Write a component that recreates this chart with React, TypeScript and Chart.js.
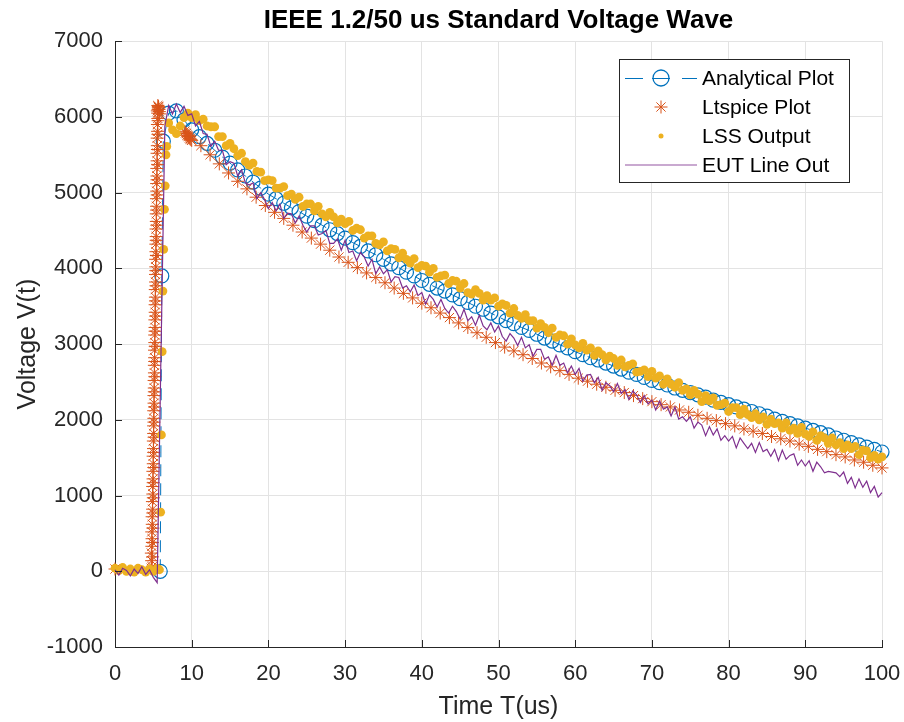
import React, { useEffect, useRef } from "react";
import { Chart, registerables } from "chart.js";

Chart.register(...registerables);

const TITLE = "IEEE 1.2/50 us Standard Voltage Wave";
const X_LABEL = "Time T(us)";
const Y_LABEL = "Voltage V(t)";
const SERIES_NAMES = ["Analytical Plot", "Ltspice Plot", "LSS Output", "EUT Line Out"];
const SERIES_COLORS = ["#0072BD", "#D95319", "#EDB120", "#7E2F8E"];

const X_MIN = 0;
const X_MAX = 100;
const X_STEP = 10;
const Y_MIN = -1000;
const Y_MAX = 7000;
const Y_STEP = 1000;

// ---------- Analytical Plot ----------
const analyticalFrontT = [5.9, 6.1, 6.3];
const analyticalFrontV = [0, 3900, 5680];
const ANALYTICAL_TAIL_START = 7;
const ANALYTICAL_TAIL_STEP = 1;
const analyticalTailV = [
  6050, 6080, 5960, 5830, 5740, 5650, 5560, 5470, 5390, 5300, 5220, 5140, 5060, 4980,
  4920, 4860, 4800, 4750, 4690, 4630, 4570, 4510, 4460, 4400,
  4340, 4290, 4230, 4180, 4120, 4060, 4010, 3950, 3900, 3840,
  3790, 3740, 3700, 3650, 3600, 3550, 3500, 3460, 3410, 3360,
  3310, 3270, 3220, 3180, 3130, 3080, 3040, 2990, 2950, 2900,
  2860, 2820, 2790, 2750, 2710, 2670, 2630, 2600, 2560, 2520,
  2490, 2460, 2420, 2390, 2360, 2330, 2300, 2260, 2230, 2200,
  2170, 2140, 2110, 2080, 2050, 2010, 1980, 1950, 1920, 1890,
  1860, 1830, 1800, 1760, 1730, 1700, 1670, 1640, 1610, 1575,
];

// ---------- Ltspice Plot ----------
const ltspiceFrontT = [
  0, 4.72, 4.78, 4.74, 4.8, 4.83, 4.79, 4.86, 4.84, 4.9, 4.88, 4.93, 4.91, 4.96, 4.94,
  4.99, 4.97, 5.02, 5.0, 5.04, 5.03, 5.07, 5.05, 5.09, 5.08, 5.12, 5.1, 5.14, 5.13,
  5.17, 5.15, 5.19, 5.18, 5.22, 5.2, 5.24, 5.23, 5.27, 5.25, 5.29, 5.28, 5.32, 5.3,
  5.34, 5.33, 5.37, 5.35, 5.39, 5.38, 5.42, 5.4, 5.44, 5.43, 5.47, 5.45, 5.49, 5.48,
  5.52, 5.5, 5.55, 5.53, 5.58, 5.56, 5.61, 5.64, 5.67, 5.7, 5.74, 5.78, 5.83,
  4.85, 4.9, 4.88, 4.95, 4.93, 5.0, 4.98, 5.06, 5.04, 5.1, 5.08, 5.15, 5.13, 5.2,
  5.18, 5.25, 5.23, 5.3, 5.28, 5.35, 5.33, 5.4, 5.38, 5.45, 5.43, 5.5, 5.48, 5.55,
  5.53, 5.6, 5.62, 5.52, 5.58,
  9.1, 9.2, 9.3, 9.4, 9.5, 9.6, 9.7, 9.8, 9.9, 10.0,
];
const ltspiceFrontV = [
  30, 40, 140, 240, 330, 430, 520, 620, 720, 820, 920, 1020, 1120, 1220, 1320,
  1420, 1520, 1620, 1720, 1820, 1920, 2020, 2120, 2220, 2320, 2420, 2520, 2620, 2720,
  2820, 2920, 3020, 3120, 3220, 3320, 3420, 3520, 3620, 3720, 3820, 3920, 4020, 4120,
  4220, 4320, 4420, 4520, 4620, 4720, 4820, 4920, 5020, 5120, 5220, 5320, 5420, 5520,
  5620, 5720, 5810, 5900, 5980, 6050, 6100, 6130, 6140, 6120, 6100, 6070, 6040,
  60, 190, 380, 570, 770, 970, 1170, 1370, 1570, 1770, 1970, 2170, 2370, 2570,
  2770, 2970, 3170, 3370, 3570, 3770, 3970, 4170, 4370, 4570, 4770, 4970, 5170, 5370,
  5570, 5770, 5950, 6080, 6150,
  5810, 5790, 5780, 5760, 5750, 5740, 5720, 5710, 5700, 5690,
];
const LTSPICE_TAIL_START = 11.2;
const LTSPICE_TAIL_STEP = 1.2;
const ltspiceTailV = [
  5620, 5500, 5380, 5260, 5150, 5050, 4940, 4830, 4740, 4660,
  4570, 4480, 4400, 4320, 4240, 4150, 4080, 4010, 3940, 3880,
  3810, 3740, 3670, 3610, 3540, 3480, 3410, 3350, 3280, 3220,
  3150, 3090, 3020, 2960, 2910, 2860, 2810, 2750, 2700, 2650,
  2600, 2550, 2510, 2470, 2430, 2390, 2360, 2320, 2280, 2240,
  2200, 2170, 2130, 2100, 2060, 2020, 1990, 1950, 1920, 1880,
  1850, 1820, 1780, 1750, 1720, 1680, 1650, 1610, 1580, 1540,
  1510, 1470, 1440, 1400, 1365,
];

// ---------- LSS Output ----------
const lssFrontT = [
  0, 0.5, 1, 1.5, 2, 2.5, 3, 3.5, 4, 4.5, 5, 5.5, 5.8,
  5.95, 6.05, 6.15, 6.25, 6.35, 6.45, 6.55, 6.65, 6.75,
  7.0, 7.5, 8.0, 8.5, 9.0,
];
const lssFrontV = [
  40, 10, 50, 0, 30, -10, 40, 20, -10, 30, 0, 40, 20,
  780, 1800, 2900, 3700, 4250, 4780, 5090, 5500, 5610,
  5920, 5830, 5780, 5880, 5990,
];
const LSS_TAIL_START = 9.5;
const LSS_TAIL_STEP = 0.5;
const lssTailV = [
  6050, 5990, 6030, 5950, 5970, 5880, 5870, 5870, 5740, 5740,
  5620, 5650, 5580, 5490, 5520, 5410, 5360, 5390, 5280, 5270,
  5160, 5170, 5160, 5060, 5060, 5080, 4960, 4980, 4910, 4940,
  4820, 4850, 4850, 4760, 4820, 4720, 4680, 4740, 4680, 4600,
  4650, 4590, 4620, 4500, 4530, 4510, 4400, 4430, 4430, 4330,
  4310, 4350, 4230, 4260, 4250, 4140, 4200, 4120, 4070, 4130,
  4010, 4040, 4030, 3950, 4000, 3880, 3900, 3910, 3800, 3840,
  3830, 3740, 3800, 3680, 3660, 3720, 3670, 3580, 3640, 3580,
  3610, 3500, 3530, 3510, 3410, 3470, 3380, 3340, 3390, 3310,
  3310, 3210, 3270, 3220, 3150, 3210, 3090, 3120, 3110, 3000,
  3070, 2990, 2950, 3010, 2920, 2950, 2850, 2910, 2860, 2790,
  2840, 2810, 2720, 2790, 2700, 2720, 2740, 2630, 2640, 2660,
  2570, 2640, 2550, 2580, 2470, 2540, 2470, 2430, 2490, 2390,
  2410, 2330, 2390, 2340, 2240, 2320, 2250, 2290, 2190, 2200,
  2220, 2110, 2160, 2160, 2070, 2140, 2070, 2030, 2080, 2000,
  2040, 1940, 2010, 1950, 1960, 1890, 1960, 1860, 1890, 1820,
  1900, 1810, 1780, 1840, 1730, 1790, 1760, 1690, 1760, 1670,
  1700, 1620, 1670, 1620, 1650, 1540, 1600, 1590, 1500, 1530,
  1480, 1510,
];

// ---------- EUT Line Out ----------
const EUT_START = 0;
const EUT_STEP = 0.5;
const eutV = [
  20, -50, 40, 10, -60, 30, -30, 60, -40, 20, -80, -150,
  2900, 5880, 6150, 6040, 6170, 6060, 6140, 6020,
  6040, 5880, 5940, 5780, 5770, 5610, 5680, 5560, 5560, 5370,
  5410, 5390, 5220, 5300, 5130, 5100, 5130, 4920, 5000, 4910,
  4790, 4870, 4760, 4850, 4660, 4730, 4720, 4600, 4690, 4570,
  4480, 4560, 4560, 4440, 4460, 4500, 4330, 4330, 4390, 4240,
  4370, 4210, 4230, 4100, 4210, 4150, 4030, 4120, 3930, 4020,
  3930, 3980, 3820, 3890, 3880, 3740, 3770, 3690, 3780, 3640,
  3680, 3530, 3650, 3590, 3490, 3590, 3470, 3410, 3500, 3430,
  3330, 3460, 3310, 3360, 3250, 3380, 3240, 3190, 3280, 3160,
  3240, 3100, 3040, 3140, 3080, 2980, 3090, 2950, 2990, 2840,
  2930, 2930, 2800, 2830, 2720, 2850, 2720, 2750, 2620, 2710,
  2600, 2680, 2510, 2590, 2600, 2490, 2560, 2390, 2490, 2450,
  2370, 2480, 2350, 2400, 2270, 2380, 2330, 2230, 2320, 2210,
  2260, 2130, 2250, 2140, 2170, 2050, 2170, 2010, 2040, 1980,
  2040, 1890, 1970, 1930, 1790, 1910, 1800, 1880, 1730, 1790,
  1720, 1780, 1630, 1760, 1690, 1620, 1690, 1570, 1700, 1580,
  1610, 1520, 1610, 1460, 1600, 1480, 1530, 1550, 1400, 1470,
  1390, 1460, 1320, 1440, 1380, 1300, 1320, 1310, 1300, 1250,
  1310, 1160, 1240, 1100, 1220, 1110, 1190, 1040, 1120, 980, 1040,
];

const FONT = "'Liberation Sans', Arial, Helvetica, sans-serif";
const AXIS_COLOR = "#262626";
const GRID_COLOR = "#e3e3e3";

const pairs = (ts: number[], vs: number[]) => ts.map((t, i) => ({ x: t, y: vs[i] }));
const grid = (start: number, step: number, vs: number[]) =>
  vs.map((v, i) => ({ x: Math.round((start + i * step) * 1000) / 1000, y: v }));

const analyticalData = [
  ...pairs(analyticalFrontT, analyticalFrontV),
  ...grid(ANALYTICAL_TAIL_START, ANALYTICAL_TAIL_STEP, analyticalTailV),
];
const ltspiceData = [
  ...pairs(ltspiceFrontT, ltspiceFrontV),
  ...grid(LTSPICE_TAIL_START, LTSPICE_TAIL_STEP, ltspiceTailV),
];
const lssData = [...pairs(lssFrontT, lssFrontV), ...grid(LSS_TAIL_START, LSS_TAIL_STEP, lssTailV)];
const eutData = grid(EUT_START, EUT_STEP, eutV);

function drawAsterisk(ctx: CanvasRenderingContext2D, x: number, y: number, r: number) {
  ctx.beginPath();
  ctx.moveTo(x - r, y);
  ctx.lineTo(x + r, y);
  ctx.moveTo(x, y - r);
  ctx.lineTo(x, y + r);
  const d = r * Math.SQRT1_2;
  ctx.moveTo(x - d, y - d);
  ctx.lineTo(x + d, y + d);
  ctx.moveTo(x - d, y + d);
  ctx.lineTo(x + d, y - d);
  ctx.stroke();
}

const innerTicksPlugin = {
  id: "innerTicks",
  afterDraw(chart: any) {
    const { ctx, chartArea } = chart;
    const xs = chart.scales.x;
    const ys = chart.scales.y;
    ctx.save();
    ctx.strokeStyle = AXIS_COLOR;
    ctx.lineWidth = 1;
    ctx.beginPath();
    xs.ticks.forEach((t: any) => {
      const px = Math.round(xs.getPixelForValue(t.value)) + 0.5;
      ctx.moveTo(px, chartArea.bottom);
      ctx.lineTo(px, chartArea.bottom - 7);
    });
    ys.ticks.forEach((t: any) => {
      const py = Math.round(ys.getPixelForValue(t.value)) + 0.5;
      ctx.moveTo(chartArea.left, py);
      ctx.lineTo(chartArea.left + 7, py);
    });
    ctx.stroke();
    ctx.restore();
  },
};

const legendPlugin = {
  id: "matlabLegend",
  afterDraw(chart: any) {
    const { ctx, chartArea } = chart;
    const bx = Math.round(chartArea.right) - 263;
    const by = Math.round(chartArea.top) + 18;
    const bw = 230;
    const bh = 123;
    ctx.save();
    ctx.fillStyle = "#ffffff";
    ctx.fillRect(bx, by, bw, bh);
    ctx.strokeStyle = AXIS_COLOR;
    ctx.lineWidth = 1;
    ctx.strokeRect(bx + 0.5, by + 0.5, bw, bh);

    const rows = [by + 19, by + 48, by + 77, by + 106];
    const x0 = bx + 6;
    const x1 = bx + 78;
    const xm = bx + 42;

    ctx.strokeStyle = SERIES_COLORS[0];
    ctx.lineWidth = 1;
    ctx.beginPath();
    ctx.moveTo(x0, rows[0] + 0.5);
    ctx.lineTo(x0 + 18, rows[0] + 0.5);
    ctx.moveTo(xm - 9, rows[0] + 0.5);
    ctx.lineTo(xm + 9, rows[0] + 0.5);
    ctx.moveTo(x1 - 15, rows[0] + 0.5);
    ctx.lineTo(x1, rows[0] + 0.5);
    ctx.stroke();
    ctx.lineWidth = 1.3;
    ctx.beginPath();
    ctx.arc(xm, rows[0], 8, 0, Math.PI * 2);
    ctx.stroke();

    ctx.strokeStyle = SERIES_COLORS[1];
    ctx.lineWidth = 1;
    drawAsterisk(ctx, xm, rows[1], 6.5);

    ctx.fillStyle = SERIES_COLORS[2];
    ctx.beginPath();
    ctx.arc(xm, rows[2], 2.5, 0, Math.PI * 2);
    ctx.fill();

    ctx.strokeStyle = SERIES_COLORS[3];
    ctx.globalAlpha = 0.55;
    ctx.lineWidth = 1.5;
    ctx.beginPath();
    ctx.moveTo(x0, rows[3]);
    ctx.lineTo(x1, rows[3]);
    ctx.stroke();
    ctx.globalAlpha = 1;

    ctx.fillStyle = "#000000";
    ctx.font = `21px ${FONT}`;
    ctx.textBaseline = "middle";
    ctx.textAlign = "left";
    SERIES_NAMES.forEach((name, i) => {
      ctx.fillText(name, bx + 83, rows[i] + 1);
    });
    ctx.restore();
  },
};

export default function App() {
  const ref = useRef<HTMLCanvasElement | null>(null);

  useEffect(() => {
    document.body.style.margin = "0";
    const canvas = ref.current;
    if (!canvas) return;
    const chart = new Chart(canvas, {
      type: "scatter",
      data: {
        datasets: [
          {
            label: SERIES_NAMES[0],
            data: analyticalData,
            showLine: true,
            borderColor: SERIES_COLORS[0],
            borderWidth: 1,
            borderDash: [12, 7],
            pointStyle: "circle",
            pointRadius: 7,
            pointBorderWidth: 1.2,
            pointBorderColor: SERIES_COLORS[0],
            pointBackgroundColor: "rgba(0,0,0,0)",
            order: 4,
            clip: false,
          } as any,
          {
            label: SERIES_NAMES[1],
            data: ltspiceData,
            showLine: false,
            pointStyle: "star",
            pointRadius: 6.5,
            pointBorderWidth: 1,
            pointBorderColor: SERIES_COLORS[1],
            pointBackgroundColor: SERIES_COLORS[1],
            order: 3,
            clip: false,
          } as any,
          {
            label: SERIES_NAMES[2],
            data: lssData,
            showLine: false,
            pointStyle: "circle",
            pointRadius: 4.4,
            pointBorderWidth: 0,
            pointBackgroundColor: SERIES_COLORS[2],
            pointBorderColor: SERIES_COLORS[2],
            order: 2,
            clip: false,
          } as any,
          {
            label: SERIES_NAMES[3],
            data: eutData,
            showLine: true,
            borderColor: SERIES_COLORS[3],
            borderWidth: 1.2,
            pointRadius: 0,
            order: 1,
            clip: false,
          } as any,
        ],
      },
      options: {
        responsive: false,
        animation: false,
        events: [],
        layout: { padding: { left: 0, right: 22, top: 0, bottom: 0 } },
        plugins: {
          legend: { display: false },
          tooltip: { enabled: false },
          title: {
            display: true,
            fullSize: false,
            text: TITLE,
            color: "#000000",
            font: { family: FONT, size: 26, weight: "bold" },
            padding: { top: 5, bottom: 5 },
          },
        },
        scales: {
          x: {
            type: "linear",
            min: X_MIN,
            max: X_MAX,
            ticks: {
              stepSize: X_STEP,
              color: AXIS_COLOR,
              font: { family: FONT, size: 22 },
              padding: 14,
              maxRotation: 0,
              callback: (v: any) => `${v}`,
            },
            grid: { color: GRID_COLOR, drawTicks: false, lineWidth: 1 },
            border: { display: true, color: AXIS_COLOR, width: 1 },
            title: {
              display: true,
              text: X_LABEL,
              color: AXIS_COLOR,
              font: { family: FONT, size: 25 },
              padding: { top: 0, bottom: 0 },
            },
            afterFit: (s: any) => {
              s.height = 75;
              s.paddingLeft = 0;
              s.paddingRight = 0;
            },
          },
          y: {
            type: "linear",
            min: Y_MIN,
            max: Y_MAX,
            ticks: {
              stepSize: Y_STEP,
              color: AXIS_COLOR,
              font: { family: FONT, size: 22 },
              padding: 12,
              callback: (v: any) => `${v}`,
            },
            grid: { color: GRID_COLOR, drawTicks: false, lineWidth: 1 },
            border: { display: true, color: AXIS_COLOR, width: 1 },
            title: {
              display: true,
              text: Y_LABEL,
              color: AXIS_COLOR,
              font: { family: FONT, size: 25 },
              padding: { top: 13, bottom: 0 },
            },
            afterFit: (s: any) => {
              s.width = 115;
              s.paddingTop = 0;
              s.paddingBottom = 0;
            },
          },
        },
      } as any,
      plugins: [innerTicksPlugin, legendPlugin],
    });
    return () => chart.destroy();
  }, []);

  return (
    <div style={{ width: 904, height: 722, background: "#ffffff" }}>
      <canvas ref={ref} width={904} height={722} style={{ display: "block" }} />
    </div>
  );
}
